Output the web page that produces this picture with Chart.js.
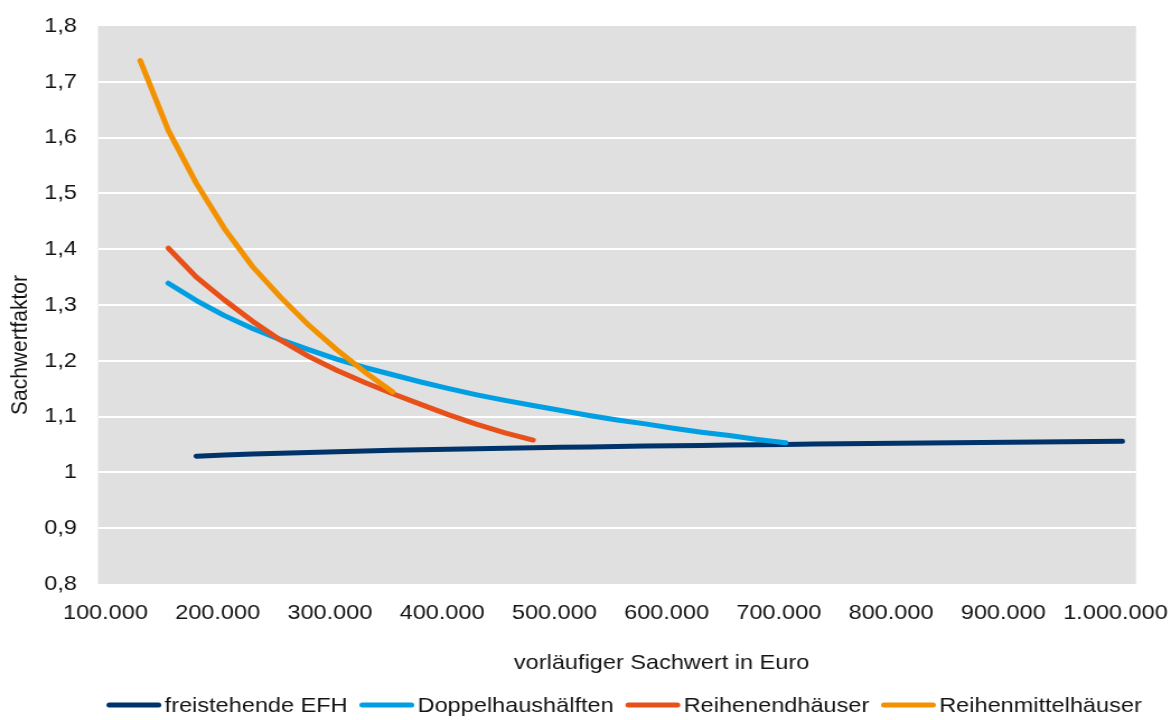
<!DOCTYPE html>
<html lang="de">
<head>
<meta charset="utf-8">
<title>Sachwertfaktor</title>
<script src="https://cdn.jsdelivr.net/npm/chart.js@4/dist/chart.umd.min.js"></script>
<style>
  html, body { margin: 0; padding: 0; background: #ffffff; overflow: hidden; }
  /* chart is laid out narrower and widened horizontally to the page width */
  #wrap { width: 1046px; height: 720px; transform: scaleX(1.1195); transform-origin: 0 0; }
</style>
</head>
<body>
<div id="wrap"><canvas id="c"></canvas></div>
<script>
// Series labels
const seriesNames = ['freistehende EFH', 'Doppelhaushälften', 'Reihenendhäuser', 'Reihenmittelhäuser'];

// freistehende EFH
const efhX = [181000, 206000, 231000, 256000, 281000, 306000, 331000, 356000, 381000, 406000,
              431000, 456000, 481000, 506000, 531000, 556000, 581000, 606000, 631000, 656000,
              681000, 706000, 731000, 756000, 781000, 806000, 831000, 856000, 881000, 906000,
              931000, 956000, 981000, 1006000];
const efhY = [1.0290, 1.0310, 1.0328, 1.0344, 1.0358, 1.0372, 1.0384, 1.0395, 1.0406, 1.0416,
              1.0425, 1.0434, 1.0442, 1.0450, 1.0457, 1.0464, 1.0471, 1.0478, 1.0484, 1.0490,
              1.0496, 1.0502, 1.0507, 1.0512, 1.0517, 1.0522, 1.0527, 1.0532, 1.0536, 1.0540,
              1.0545, 1.0549, 1.0553, 1.0557];

// Doppelhaushälften
const dhhX = [156000, 181000, 206000, 231000, 256000, 281000, 306000, 331000, 356000, 381000,
              406000, 431000, 456000, 481000, 506000, 531000, 556000, 581000, 606000, 631000,
              656000, 681000, 706000];
const dhhY = [1.339, 1.308, 1.281, 1.258, 1.238, 1.220, 1.203, 1.188, 1.175, 1.162,
              1.150, 1.139, 1.129, 1.120, 1.111, 1.102, 1.094, 1.087, 1.079, 1.072,
              1.066, 1.059, 1.053];

// Reihenendhäuser
const rehX = [156000, 181000, 206000, 231000, 256000, 281000, 306000, 331000, 356000, 381000,
              406000, 431000, 456000, 481000];
const rehY = [1.402, 1.350, 1.309, 1.271, 1.237, 1.208, 1.183, 1.161, 1.141, 1.122,
              1.103, 1.086, 1.071, 1.058];

// Reihenmittelhäuser
const rmhX = [131000, 156000, 181000, 206000, 231000, 256000, 281000, 306000, 331000, 356000];
const rmhY = [1.738, 1.613, 1.518, 1.437, 1.369, 1.314, 1.264, 1.220, 1.180, 1.144];

// Axis ticks
const xTickValues = [100000, 200000, 300000, 400000, 500000, 600000, 700000, 800000, 900000, 1000000];
const yTickMin = 0.8, yTickMax = 1.8, yTickStep = 0.1;

const seriesColors = ['#00336A', '#009FE3', '#E8501A', '#F39200'];

const FONT = "'Liberation Sans', Arial, Helvetica, sans-serif";
const FONT_SIZE = 21;
const TEXT_COLOR = '#141414';

const toPoints = (xs, ys) => xs.map((x, i) => ({ x: x, y: ys[i] }));
const fmtThousands = v => String(Math.round(v)).replace(/\B(?=(\d{3})+(?!\d))/g, '.');
const fmtDecimal = v => String(Number(v.toFixed(1))).replace('.', ',');

// grey plot area
const plotBackground = {
  id: 'plotBackground',
  beforeDraw(chart) {
    const a = chart.chartArea, ctx = chart.ctx;
    ctx.save();
    ctx.fillStyle = '#E0E0E0';
    ctx.fillRect(a.left, a.top, a.right - a.left, a.bottom - a.top);
    ctx.restore();
  }
};

// axis titles and legend row
const annotations = {
  id: 'annotations',
  afterDraw(chart) {
    const ctx = chart.ctx;
    ctx.save();
    ctx.font = FONT_SIZE + 'px ' + FONT;
    ctx.fillStyle = TEXT_COLOR;
    ctx.textBaseline = 'middle';

    // x axis title
    ctx.textAlign = 'center';
    ctx.fillText('vorläufiger Sachwert in Euro', 591, 663);

    // y axis title
    ctx.save();
    ctx.translate(18, 345);
    ctx.rotate(-Math.PI / 2);
    ctx.fillText('Sachwertfaktor', 0, 0);
    ctx.restore();

    // legend
    const lineLen = 48, gapText = 3.5, gapItem = 11, yMid = 705;
    let x = 95.6;
    ctx.textAlign = 'left';
    chart.data.datasets.forEach(ds => {
      ctx.strokeStyle = ds.borderColor;
      ctx.lineWidth = ds.borderWidth;
      ctx.lineCap = 'round';
      ctx.beginPath();
      ctx.moveTo(x + 2, yMid);
      ctx.lineTo(x + lineLen - 2, yMid);
      ctx.stroke();
      x += lineLen + gapText;
      ctx.fillText(ds.label, x, yMid + 1);
      x += ctx.measureText(ds.label).width + gapItem;
    });
    ctx.restore();
  }
};

const mkDataset = (i, xs, ys, order) => ({
  label: seriesNames[i],
  data: toPoints(xs, ys),
  borderColor: seriesColors[i],
  backgroundColor: seriesColors[i],
  borderWidth: 5,
  borderCapStyle: 'round',
  borderJoinStyle: 'round',
  pointRadius: 0,
  pointHoverRadius: 0,
  tension: 0,
  fill: false,
  order: order
});

new Chart(document.getElementById('c'), {
  type: 'line',
  data: {
    datasets: [
      mkDataset(0, efhX, efhY, 3),
      mkDataset(1, dhhX, dhhY, 2),
      mkDataset(2, rehX, rehY, 1),
      mkDataset(3, rmhX, rmhY, 0)
    ]
  },
  options: {
    responsive: true,
    maintainAspectRatio: false,
    animation: false,
    events: [],
    layout: { padding: { left: 0, right: 31.3, top: 26, bottom: 86 } },
    plugins: {
      legend: { display: false },
      tooltip: { enabled: false },
      title: { display: false }
    },
    scales: {
      x: {
        type: 'linear',
        min: 93316,
        max: 1018256,
        grid: { display: false, drawTicks: false },
        border: { display: false },
        afterBuildTicks: axis => { axis.ticks = xTickValues.map(v => ({ value: v })); },
        afterFit: scale => {
          scale.height = 50;
          scale.paddingLeft = 0;
          scale.paddingRight = 0;
        },
        ticks: {
          autoSkip: false,
          maxRotation: 0,
          padding: 16.5,
          color: TEXT_COLOR,
          font: { family: FONT, size: FONT_SIZE },
          callback: v => fmtThousands(v)
        }
      },
      y: {
        type: 'linear',
        min: yTickMin,
        max: yTickMax,
        border: { display: false },
        grid: {
          drawTicks: false,
          lineWidth: 2,
          color: c => {
            const v = c.tick ? c.tick.value : null;
            if (v === null || Math.abs(v - yTickMin) < 1e-6 || Math.abs(v - yTickMax) < 1e-6) return 'rgba(0,0,0,0)';
            return '#FFFFFF';
          }
        },
        afterFit: scale => {
          scale.width = 87.5;
          scale.paddingTop = 0;
          scale.paddingBottom = 0;
        },
        ticks: {
          stepSize: yTickStep,
          padding: 18.7,
          color: TEXT_COLOR,
          font: { family: FONT, size: FONT_SIZE },
          callback: v => fmtDecimal(v)
        }
      }
    }
  },
  plugins: [plotBackground, annotations]
});
</script>
</body>
</html>
